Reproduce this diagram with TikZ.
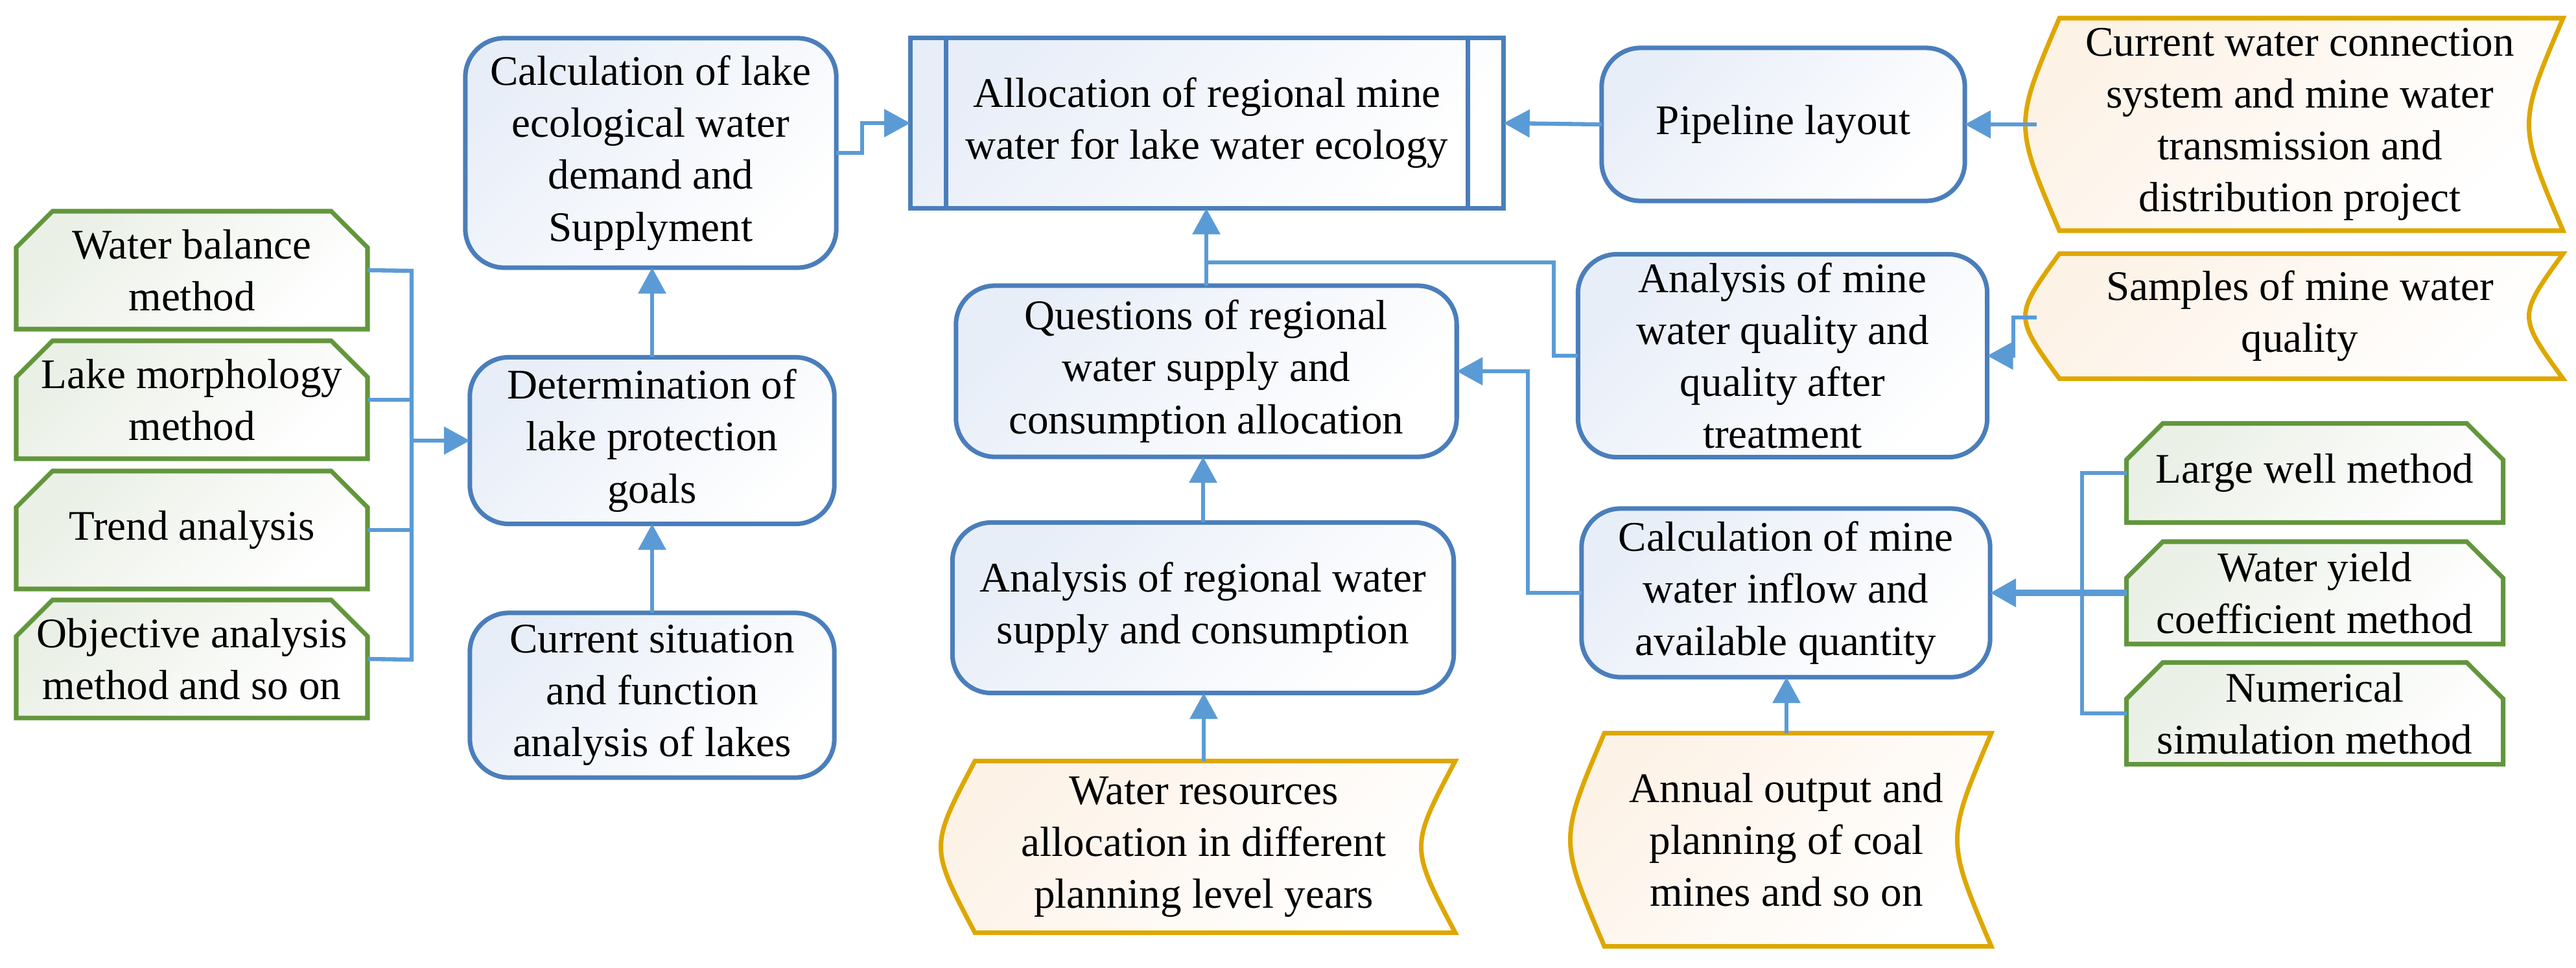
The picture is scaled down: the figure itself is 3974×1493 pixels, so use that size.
\documentclass[tikz,border=0pt]{standalone}
\usepackage{fontspec}
\setmainfont{Liberation Serif}
\usetikzlibrary{arrows.meta}
\definecolor{bbord}{RGB}{74,126,187}
\definecolor{bline}{RGB}{91,155,213}
\definecolor{gbord}{RGB}{98,150,60}
\definecolor{obord}{RGB}{222,167,0}
\definecolor{bfill}{RGB}{232,238,248}
\definecolor{gfill}{RGB}{234,240,230}
\definecolor{ofill}{RGB}{253,242,230}
\tikzset{
 txt/.style={align=center,font=\rmfamily\fontsize{18.5}{22.8}\selectfont,inner sep=0pt,outer sep=0pt},
 bluebox/.style={txt,draw=bbord,line width=2pt,rounded corners=0.6cm,top color=bfill,bottom color=white,shading angle=45},
 gshape/.style={draw=gbord,line width=2pt,top color=gfill,bottom color=white,shading angle=45},
 oshape/.style={draw=obord,line width=2pt,top color=ofill,bottom color=white,shading angle=45},
 conn/.style={draw=bline,line width=1.8pt},
 arr/.style={conn,-{Triangle[length=0.4cm,width=0.42cm]}},
}
\newcommand{\obox}[6]{%
 \pgfmathsetmacro{\xa}{#2-#4/2}\pgfmathsetmacro{\xb}{#2+#4/2}%
 \pgfmathsetmacro{\ya}{#3-#5/2}\pgfmathsetmacro{\yb}{#3+#5/2}%
 \path[oshape] (\xa+35,\ya) -- (\xb,\ya) .. controls (\xb-70,#3) .. (\xb,\yb) -- (\xa+35,\yb) .. controls (\xa-35,#3) .. (\xa+35,\ya) -- cycle;
 \node[txt,minimum width={#4*0.01cm},minimum height={#5*0.01cm}] (#1) at (#2,#3) {#6};}
\newcommand{\gbox}[6]{%
 \pgfmathsetmacro{\xa}{#2-#4/2}\pgfmathsetmacro{\xb}{#2+#4/2}%
 \pgfmathsetmacro{\ya}{#3-#5/2}\pgfmathsetmacro{\yb}{#3+#5/2}%
 \path[gshape] (\xa,\yb) -- (\xa,\ya+56) -- (\xa+56,\ya) -- (\xb-56,\ya) -- (\xb,\ya+56) -- (\xb,\yb) -- cycle;
 \node[txt,minimum width={#4*0.01cm},minimum height={#5*0.01cm}] (#1) at (#2,#3) {#6};}
\begin{document}
\begin{tikzpicture}[x=0.01cm,y=-0.01cm]
\useasboundingbox (0,0) rectangle (3974,1493);
% green method boxes
\gbox{wb}{296}{417}{542}{182}{Water balance\\method}
\gbox{lm}{296}{617}{542}{182}{Lake morphology\\method}
\gbox{ta}{296}{818}{542}{182}{Trend analysis}
\gbox{oa}{296}{1017}{542}{182}{Objective analysis\\method and so on}
\node[bluebox,minimum width=5.62cm,minimum height=2.57cm] (det) at (1006,680) {Determination of\\lake protection\\goals};
\node[bluebox,minimum width=5.62cm,minimum height=2.54cm] (cur) at (1006,1073) {Current situation\\and function\\analysis of lakes};
\node[bluebox,minimum width=5.72cm,minimum height=3.54cm] (calclake) at (1004,236) {Calculation of lake\\ecological water\\demand and\\Supplyment};
\node[txt,draw=bbord,line width=2pt,top color=bfill,bottom color=white,shading angle=45,minimum width=9.15cm,minimum height=2.63cm] (alloc) at (1862,190) {Allocation of regional mine\\water for lake water ecology};
\draw[bbord,line width=2pt] ([xshift=0.55cm]alloc.north west) -- ([xshift=0.55cm]alloc.south west)
 ([xshift=-0.55cm]alloc.north east) -- ([xshift=-0.55cm]alloc.south east);
\node[bluebox,minimum width=5.6cm,minimum height=2.36cm] (pipe) at (2751,192) {Pipeline layout};
\obox{cwc}{3548}{192}{812}{328}{Current water connection\\system and mine water\\transmission and\\distribution project}
\node[bluebox,minimum width=6.31cm,minimum height=3.13cm] (anmine) at (2750,549) {Analysis of mine\\water quality and\\quality after\\treatment};
\obox{samples}{3548}{488}{812}{193}{Samples of mine water\\quality}
\node[bluebox,minimum width=7.72cm,minimum height=2.64cm] (ques) at (1861,573) {Questions of regional\\water supply and\\consumption allocation};
\node[bluebox,minimum width=7.73cm,minimum height=2.63cm] (anreg) at (1856,938) {Analysis of regional water\\supply and consumption};
\obox{wres}{1857}{1307}{776}{265}{Water resources\\allocation in different\\planning level years}
\node[bluebox,minimum width=6.3cm,minimum height=2.6cm] (calcmine) at (2755,915) {Calculation of mine\\water inflow and\\available quantity};
\obox{annual}{2756}{1296}{632}{329}{Annual output and\\planning of coal\\mines and so on}
\gbox{large}{3571}{730}{581}{153}{Large well method}
\gbox{wy}{3571}{915}{581}{158}{Water yield\\coefficient method}
\gbox{num}{3571}{1101}{581}{157}{Numerical\\simulation method}
% connectors left
\coordinate (b1) at (635,418);
\coordinate (b4) at (635,1018);
\draw[conn] (wb.east) -- (b1) -- (b4) -- (oa.east);
\draw[conn] (lm.east) -- (lm.east -| b1);
\draw[conn] (ta.east) -- (ta.east -| b1);
\draw[arr] (b1 |- det.west) -- (det.west);
\draw[arr] (cur.north) -- (det.south);
\draw[arr] (det.north) -- (calclake.south -| det.north);
\coordinate (c1) at (1330,236);
\draw[arr] (calclake.east) -- (c1) -- (c1 |- alloc.west) -- (alloc.west);
% middle
\coordinate (j) at (1861,405);
\coordinate (j2) at (2397,405);
\draw[arr] (ques.north) -- (alloc.south -| ques.north);
\draw[conn] (j) -- (j2) -- (j2 |- anmine.west) -- (anmine.west);
\coordinate (k) at (2357,915);
\draw[arr] (calcmine.west) -- (k) -- (k |- ques.east) -- (ques.east);
\draw[arr] (anreg.north) -- (ques.south -| anreg.north);
\draw[arr] (wres.north) -- (anreg.south -| wres.north);
\draw[arr] (annual.north) -- (calcmine.south -| annual.north);
% right
\draw[arr] (cwc.west) -- (pipe.east);
\draw[arr] (pipe.west) -- (alloc.east);
\coordinate (s1) at (3106,490);
\draw[arr] (samples.west |- s1) -- (s1) -- (s1 |- anmine.east) -- (anmine.east);
\coordinate (g1) at (3212,730);
\draw[conn] (large.west) -- (g1) -- (g1 |- num.west) -- (num.west);
\draw[arr,line width=2.6pt] (wy.west) -- (calcmine.east);
\end{tikzpicture}
\end{document}
